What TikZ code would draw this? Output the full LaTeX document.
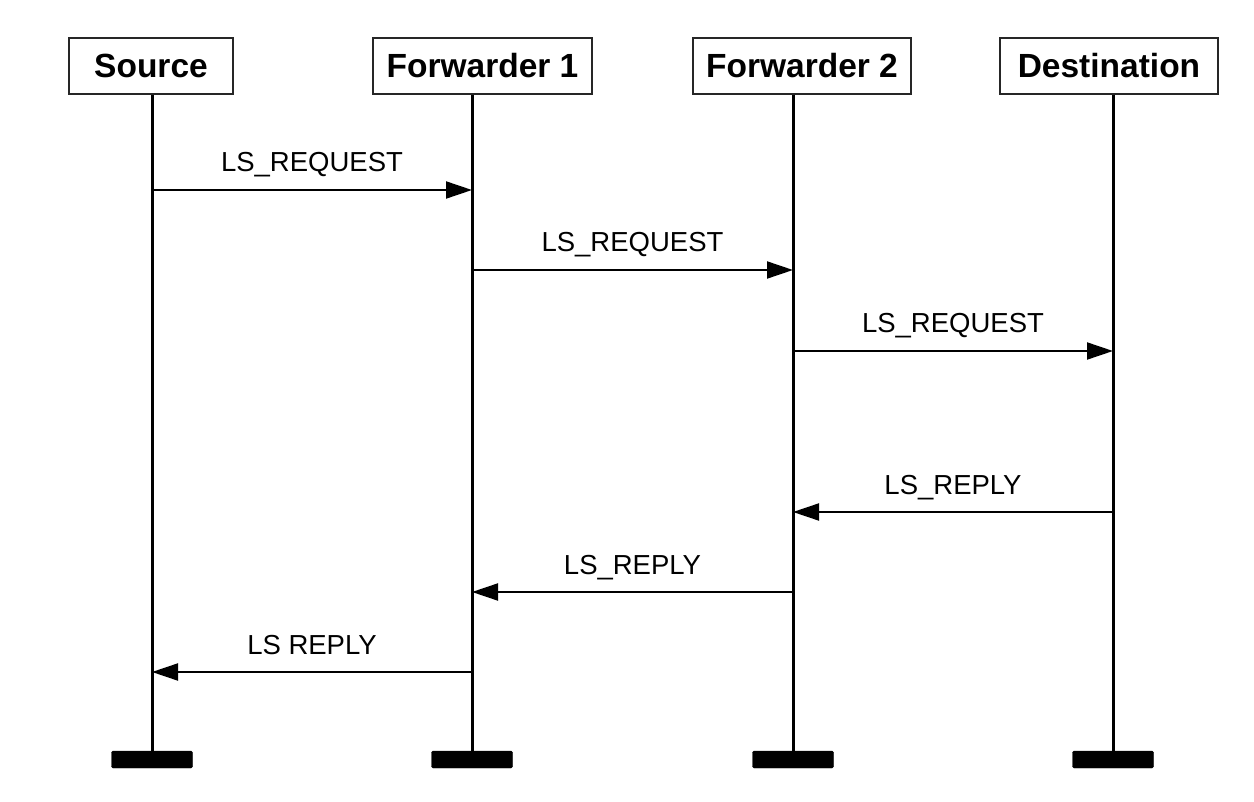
\documentclass[tikz,border=0pt]{standalone}
\usepackage{fontspec}
\setmainfont{Liberation Sans}
\usetikzlibrary{arrows.meta}
\tikzset{
  hdr/.style={draw=black!85, line width=1.1pt, minimum height=56pt, inner sep=0pt,
    font=\bfseries\fontsize{33.5}{36}\selectfont},
  bar/.style={fill=black, draw=black, rounded corners=1.5pt, minimum width=81pt, minimum height=17pt, inner sep=0pt},
  life/.style={line width=3pt},
  msg/.style={line width=2pt, -{Triangle[length=26pt,width=17pt]}},
  lbl/.style={font=\fontsize{27.5}{30}\selectfont, anchor=base, inner sep=0pt}
}
\begin{document}
\begin{tikzpicture}[x=1pt,y=-1pt]
\useasboundingbox (0,0) rectangle (1254,802);
% headers
\node[hdr, minimum width=164pt] (src) at (151,66) {Source};
\node[hdr, minimum width=219pt] (fw1) at (482.5,66) {Forwarder 1};
\node[hdr, minimum width=218pt] (fw2) at (802,66) {Forwarder 2};
\node[hdr, minimum width=218pt] (dst) at (1109,66) {Destination};
% bars
\node[bar] (srcbar) at (152,759.5) {};
\node[bar] (fw1bar) at (472,759.5) {};
\node[bar] (fw2bar) at (793,759.5) {};
\node[bar] (dstbar) at (1113,759.5) {};
% lifelines
\draw[life] (srcbar |- src.south) -- (srcbar.north);
\draw[life] (fw1bar |- fw1.south) -- (fw1bar.north);
\draw[life] (fw2bar |- fw2.south) -- (fw2bar.north);
\draw[life] (dstbar |- dst.south) -- (dstbar.north);
% message rows
\coordinate (r1) at (0,190);
\coordinate (r2) at (0,270);
\coordinate (r3) at (0,351);
\coordinate (r4) at (0,512);
\coordinate (r5) at (0,592);
\coordinate (r6) at (0,672);
% messages
\draw[msg] (srcbar |- r1) -- node[lbl, yshift=18pt] {LS\_REQUEST} (fw1bar |- r1);
\draw[msg] (fw1bar |- r2) -- node[lbl, yshift=18pt] {LS\_REQUEST} (fw2bar |- r2);
\draw[msg] (fw2bar |- r3) -- node[lbl, yshift=18pt] {LS\_REQUEST} (dstbar |- r3);
\draw[msg] (dstbar |- r4) -- node[lbl, yshift=18pt] {LS\_REPLY} (fw2bar |- r4);
\draw[msg] (fw2bar |- r5) -- node[lbl, yshift=18pt] {LS\_REPLY} (fw1bar |- r5);
\draw[msg] (fw1bar |- r6) -- node[lbl, yshift=18pt] {LS REPLY} (srcbar |- r6);
\end{tikzpicture}
\end{document}
